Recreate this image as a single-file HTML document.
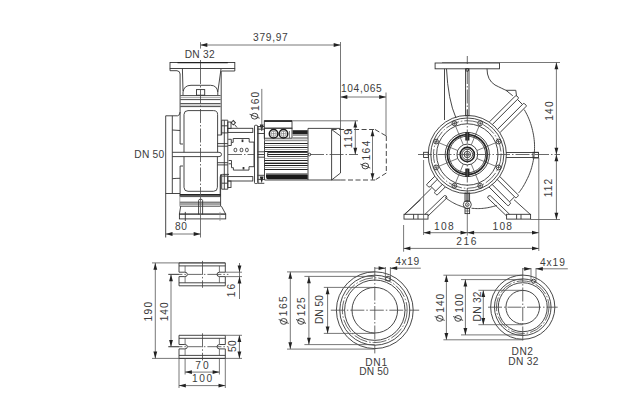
<!DOCTYPE html>
<html><head><meta charset="utf-8"><style>
html,body{margin:0;padding:0;background:#fff;}
svg{display:block;}
text{font-family:"Liberation Sans",sans-serif;fill:#3c3c3c;}
.o{fill:none;stroke:#333;stroke-width:0.9;}
.t{fill:none;stroke:#444;stroke-width:0.7;}
.thick{fill:none;stroke:#222;stroke-width:1.6;}
.fin{fill:none;stroke:#222;stroke-width:1.0;}
.lt{fill:none;stroke:#888;stroke-width:0.7;}
.d{fill:none;stroke:#555;stroke-width:0.8;}
.c{fill:none;stroke:#444;stroke-width:0.8;stroke-dasharray:14 2 1.5 2;}
.cc{fill:none;stroke:#444;stroke-width:0.8;stroke-dasharray:14 2 1.5 2;}
.dash{fill:none;stroke:#333;stroke-width:0.9;stroke-dasharray:5 2.5;}
.ar{fill:#222;stroke:none;}
.gl{fill:none;stroke:#1a1a1a;stroke-width:1.5;}
.w{fill:#fff;stroke:none;}
.t2{fill:none;stroke:#666;stroke-width:0.6;}
.rf{stroke:#222;stroke-width:1.2;}
.w2{stroke:#999;stroke-width:0.6;}
.os{fill:none;stroke:#333;stroke-width:0.9;}
</style></head><body>
<svg width="640" height="412" viewBox="0 0 640 412">
<rect width="640" height="412" fill="#fff"/>
<line class="d" x1="200.5" y1="42.2" x2="200.5" y2="48.6"/>
<line class="d" x1="200.5" y1="45" x2="340.5" y2="45"/>
<polygon class="ar" points="200.50,45.00 207.30,43.10 207.30,46.90"/>
<polygon class="ar" points="340.50,45.00 333.70,43.10 333.70,46.90"/>
<line class="d" x1="340.5" y1="42" x2="340.5" y2="136"/>
<line class="d" x1="340.5" y1="97" x2="386" y2="97"/>
<polygon class="ar" points="340.50,97.00 347.30,95.10 347.30,98.90"/>
<polygon class="ar" points="386.00,97.00 379.20,95.10 379.20,98.90"/>
<line class="d" x1="386" y1="92.5" x2="386" y2="136"/>
<rect class="o" x="170" y="62.5" width="64.8" height="6"/>
<line class="c" x1="200.5" y1="60" x2="200.5" y2="70"/>
<path class="o" d="M170,68.5 V70.7 H177 Q180,71 180.1,74 V144"/>
<path class="o" d="M234.8,68.5 V71 H221.5"/>
<line class="o" x1="221.2" y1="71" x2="221.2" y2="135"/>
<path class="o" d="M182.4,68.5 L183,91"/>
<path class="o" d="M221,69 L217.8,92"/>
<path class="o" d="M183,95.2 V92 Q184,85.3 191,85.3 H210.5 Q217,85.3 217.8,92 V95.2"/>
<rect class="o" x="196.5" y="89.6" width="8.2" height="5.6"/>
<line class="o" x1="180.4" y1="95.6" x2="220.6" y2="95.6"/>
<line class="o" x1="180.4" y1="99.6" x2="220.6" y2="99.6"/>
<line class="o" x1="180.4" y1="103.6" x2="220.6" y2="103.6"/>
<line class="o" x1="180.4" y1="106.6" x2="220.6" y2="106.6"/>
<line class="lt" x1="180.4" y1="97.6" x2="220.6" y2="97.6"/>
<line class="lt" x1="180.4" y1="105.1" x2="220.6" y2="105.1"/>
<line class="rf" x1="177.5" y1="62.7" x2="227.8" y2="62.7"/>
<path class="o" d="M184,152.3 V114.5 Q184,110.6 188,110.6 H213.5 Q217.6,110.6 217.6,114.5 V152.3"/>
<path class="o" d="M184,156.6 V187.3 Q184,191.3 188,191.3 H213.5 Q217.4,191.3 217.4,187.3 V156.6"/>
<path class="o" d="M172.3,152.3 H219 Q221.5,152.3 221.5,154.45 Q221.5,156.6 219,156.6 H172.3"/>
<line class="o" x1="165.7" y1="115.8" x2="165.7" y2="237.5"/>
<path class="o" d="M165.7,115.8 H177.5 Q180,115.5 180.1,112"/>
<line class="o" x1="172.3" y1="115.8" x2="172.3" y2="193.5"/>
<line class="o" x1="165.7" y1="193.5" x2="180" y2="193.5"/>
<path class="o" d="M172.3,130 L180.1,130.5"/>
<path class="o" d="M172.3,178.7 Q176,178.3 180.1,178.3"/>
<path class="o" d="M180.1,144 H183"/>
<path class="o" d="M183,166 H180.1 V196"/>
<line class="o" x1="220.6" y1="174.4" x2="220.6" y2="206.2"/>
<line class="thick" x1="179.8" y1="194.9" x2="220.6" y2="194.9"/>
<line class="o" x1="179.8" y1="196.6" x2="220.6" y2="196.6"/>
<line class="o" x1="179.8" y1="202.2" x2="220.6" y2="202.2"/>
<line class="o" x1="179.8" y1="204" x2="220.6" y2="204"/>
<line class="o" x1="179.8" y1="206.2" x2="220.6" y2="206.2"/>
<line class="lt" x1="179.8" y1="194.9" x2="179.8" y2="206.2"/>
<polyline class="o" points="180.7,206.2 179.4,214.1 225.7,214.1 221.4,206.2"/>
<rect class="o" x="179.4" y="214.1" width="46.3" height="4.8"/>
<path class="o" d="M198.6,214.5 V200.5 Q198.6,199.2 200.6,199.2 Q202.6,199.2 202.6,200.5 V214.5"/>
<line class="o" x1="185.3" y1="211.9" x2="185.3" y2="221"/>
<line class="lt" x1="220" y1="211.9" x2="220" y2="221"/>
<line class="c" x1="200.5" y1="70" x2="200.5" y2="192"/>
<line class="d" x1="200.5" y1="192" x2="200.5" y2="237.5"/>
<line class="d" x1="165.7" y1="234" x2="200.5" y2="234"/>
<polygon class="ar" points="165.70,234.00 172.50,232.10 172.50,235.90"/>
<polygon class="ar" points="200.50,234.00 193.70,232.10 193.70,235.90"/>
<line class="o" x1="224.3" y1="120.2" x2="224.3" y2="189.2"/>
<line class="o" x1="227.8" y1="120.2" x2="227.8" y2="189.2"/>
<line class="o" x1="221.7" y1="120.2" x2="227.8" y2="120.2"/>
<line class="o" x1="221.7" y1="189.2" x2="227.8" y2="189.2"/>
<line class="o" x1="221.7" y1="120.2" x2="221.7" y2="135"/>
<line class="o" x1="221.7" y1="174.4" x2="221.7" y2="189.2"/>
<line class="o" x1="221.7" y1="125.8" x2="227.8" y2="125.8"/>
<line class="o" x1="221.7" y1="132.9" x2="227.8" y2="132.9"/>
<line class="o" x1="221.7" y1="183.2" x2="227.8" y2="183.2"/>
<line class="o" x1="221.7" y1="176.1" x2="227.8" y2="176.1"/>
<line class="o" x1="217.3" y1="143.6" x2="227.8" y2="143.6"/>
<line class="o" x1="217.3" y1="146.2" x2="227.8" y2="146.2"/>
<line class="o" x1="217.3" y1="162.7" x2="227.8" y2="162.7"/>
<line class="o" x1="217.3" y1="164.9" x2="227.8" y2="164.9"/>
<path class="o" d="M217.3,135 H221.7"/>
<path class="o" d="M229,174.4 H222.5 Q220.2,174.6 220.2,177 V196"/>
<rect class="o" x="227.8" y="122" width="3.2" height="6.5"/>
<rect class="o" x="227.8" y="181" width="3.2" height="6.5"/>
<rect x="231.3" y="120.7" width="4" height="4" fill="#333" transform="rotate(45 233.3 122.7)"/>
<circle class="w" cx="233.3" cy="122.7" r="1.2"/>
<line class="o" x1="234.5" y1="124.5" x2="237" y2="127.5"/>
<rect class="o" x="227.8" y="128.3" width="25" height="4.1"/>
<rect class="o" x="227.8" y="176.6" width="25" height="4.4"/>
<path class="o" d="M228.2,139.3 H231.3 V142.4 H233.2 V138.5 H249.2 V142.1 H254 V166.7 H249 V170.1 H233.4 V167.7 H231.5 V163.8 H228.6"/>
<path class="o" d="M228.2,145.5 H231.3 V142.4"/>
<path class="o" d="M228.6,160.5 H231.5 V163.8"/>
<rect class="o" x="234.1" y="148.3" width="2.6" height="3.4" rx="1"/>
<rect class="o" x="240.2" y="148.3" width="2.6" height="3.4" rx="1"/>
<rect class="o" x="245.6" y="148.3" width="2.6" height="3.4" rx="1"/>
<rect x="241.6" y="139.5" width="1.8" height="2.6" fill="#333"/>
<rect x="242.6" y="167" width="1.8" height="2.5" fill="#333"/>
<rect class="o" x="254.5" y="125.3" width="3.1" height="58.2" rx="0.8"/>
<line class="o" x1="257.6" y1="126.5" x2="264.3" y2="126.5"/>
<line class="o" x1="257.6" y1="129.2" x2="264.3" y2="129.2"/>
<line class="o" x1="257.6" y1="133.5" x2="264.3" y2="133.5"/>
<line class="o" x1="257.6" y1="175.3" x2="264.3" y2="175.3"/>
<line class="o" x1="257.6" y1="179.4" x2="264.3" y2="179.4"/>
<line class="o" x1="257.6" y1="183.3" x2="264.3" y2="183.3"/>
<line class="o" x1="257.6" y1="151.8" x2="264.3" y2="151.8"/>
<line class="o" x1="257.6" y1="157.2" x2="264.3" y2="157.2"/>
<line class="t" x1="258.6" y1="126.5" x2="258.6" y2="183.3"/>
<line class="o" x1="257.6" y1="154.5" x2="264.3" y2="154.5"/>
<polygon class="ar" points="261.70,131.30 259.80,124.50 263.60,124.50"/>
<polygon class="ar" points="261.70,183.30 259.80,176.50 263.60,176.50"/>
<line class="d" x1="261.8" y1="88.9" x2="261.8" y2="131"/>
<rect class="o" x="264.3" y="120.8" width="27.7" height="7.4"/>
<line class="thick" x1="264.3" y1="121.1" x2="292" y2="121.1"/>
<rect class="o" x="264.3" y="128.2" width="27.7" height="10"/>
<line class="t" x1="289.5" y1="131" x2="289.5" y2="138"/>
<circle class="gl" cx="273.6" cy="133.7" r="4.3"/>
<circle class="t2" cx="273.6" cy="133.7" r="2.7"/>
<line class="t2" x1="270.90000000000003" y1="133.7" x2="276.3" y2="133.7"/>
<line class="t2" x1="273.6" y1="131" x2="273.6" y2="136.4"/>
<circle class="gl" cx="283.5" cy="133.7" r="4.3"/>
<circle class="t2" cx="283.5" cy="133.7" r="2.7"/>
<line class="t2" x1="280.8" y1="133.7" x2="286.2" y2="133.7"/>
<line class="t2" x1="283.5" y1="131" x2="283.5" y2="136.4"/>
<line class="d" x1="292.3" y1="120.8" x2="358" y2="120.8"/>
<line class="o" x1="264.5" y1="128.4" x2="264.5" y2="180"/>
<rect x="292.6" y="130.2" width="15.1" height="3.8" fill="#222"/>
<rect x="292.6" y="134" width="15.1" height="2" fill="#999"/>
<line class="o" x1="292.6" y1="138" x2="307.7" y2="138"/>
<line class="o" x1="308" y1="128.4" x2="340.5" y2="128.4"/>
<line class="o" x1="308" y1="128.4" x2="308" y2="180"/>
<rect x="264.5" y="139.6" width="43.2" height="1.6" fill="#999"/>
<line class="fin" x1="264.5" y1="143.5" x2="307.7" y2="143.5"/>
<line class="lt" x1="264.5" y1="145.5" x2="307.7" y2="145.5"/>
<line class="fin" x1="264.5" y1="147.5" x2="307.7" y2="147.5"/>
<line class="lt" x1="264.5" y1="149.5" x2="307.7" y2="149.5"/>
<line class="fin" x1="264.5" y1="151.5" x2="307.7" y2="151.5"/>
<line class="fin" x1="264.5" y1="160.5" x2="307.7" y2="160.5"/>
<line class="lt" x1="264.5" y1="162.5" x2="307.7" y2="162.5"/>
<line class="fin" x1="264.5" y1="163.5" x2="307.7" y2="163.5"/>
<line class="fin" x1="264.5" y1="165.5" x2="307.7" y2="165.5"/>
<line class="lt" x1="264.5" y1="167.5" x2="307.7" y2="167.5"/>
<line class="fin" x1="264.5" y1="169.5" x2="307.7" y2="169.5"/>
<line class="o" x1="267.7" y1="152.5" x2="307.7" y2="152.5"/>
<line class="fin" x1="267.7" y1="154.5" x2="307.7" y2="154.5"/>
<line class="o" x1="267.7" y1="156.5" x2="307.7" y2="156.5"/>
<line class="o" x1="267.7" y1="152.5" x2="267.7" y2="156.5"/>
<line class="lt" x1="264.5" y1="158.5" x2="307.7" y2="158.5"/>
<path d="M266,175 H307.7 V179.2 H268 Q266,179.2 266,177 Z" fill="#1a1a1a"/>
<rect x="266" y="173.3" width="41.7" height="1.7" fill="#666"/>
<line class="o" x1="264.5" y1="180" x2="340.5" y2="180"/>
<circle class="o" cx="309.5" cy="154.5" r="1.3"/>
<path class="o" d="M331.6,129.5 V180"/>
<path class="o" d="M331.6,129.5 L340.5,136 V173 L331.6,180"/>
<line class="dash" x1="331.6" y1="129.5" x2="375" y2="129.5"/>
<line class="dash" x1="375" y1="129.5" x2="386.3" y2="136"/>
<line class="dash" x1="386.3" y1="136" x2="386.3" y2="173"/>
<line class="dash" x1="386.3" y1="173" x2="375" y2="180"/>
<line class="dash" x1="340.5" y1="180" x2="375" y2="180"/>
<line class="c" x1="310" y1="154.5" x2="358" y2="154.5"/>
<line class="c" x1="228" y1="154.5" x2="254.5" y2="154.5"/>
<line class="d" x1="355.3" y1="120.8" x2="355.3" y2="154.5"/>
<polygon class="ar" points="355.30,120.80 353.40,127.60 357.20,127.60"/>
<polygon class="ar" points="355.30,154.50 353.40,147.70 357.20,147.70"/>
<line class="d" x1="372.5" y1="129.5" x2="372.5" y2="180"/>
<polygon class="ar" points="372.50,129.50 370.60,136.30 374.40,136.30"/>
<polygon class="ar" points="372.50,180.00 370.60,173.20 374.40,173.20"/>
<rect class="o" x="435.1" y="63" width="64.4" height="5.8"/>
<line class="d" x1="442" y1="62.5" x2="560" y2="62.5"/>
<line class="c" x1="467.3" y1="56" x2="467.3" y2="64"/>
<rect class="o" x="465.6" y="68.8" width="3.4" height="47"/>
<line class="c" x1="467.3" y1="70" x2="467.3" y2="115"/>
<circle class="o" cx="467.3" cy="70" r="1.4"/>
<line class="o" x1="444.5" y1="68.8" x2="444.5" y2="120"/>
<path class="o" d="M446.5,68.8 Q448,100 456,118"/>
<path class="o" d="M487,68.8 Q487,80 495,85 Q503,89 506,90.3 L512.8,95.8"/>
<g transform="translate(467.3 154.5) rotate(-45)"><line class="o" x1="39" y1="-7.4" x2="74.4" y2="-7.4"/><line class="o" x1="39" y1="-3.5" x2="74.4" y2="-3.5"/><line class="o" x1="39" y1="3.6" x2="74.4" y2="3.6"/><line class="o" x1="39" y1="7.6" x2="74.4" y2="7.6"/><line class="o" x1="74.4" y1="-3.5" x2="74.4" y2="3.6"/><path class="o" d="M74.4,-7.4 H75.4 Q76.4,-7.4 76.4,-6.4 V-4.5 Q76.4,-3.5 75.4,-3.5 H74.4"/><path class="o" d="M74.4,3.6 H75.4 Q76.4,3.6 76.4,4.6 V6.6 Q76.4,7.6 75.4,7.6 H74.4"/></g>
<path class="o" d="M506,90.3 H515.8 L516.5,95.8"/>
<circle class="o" cx="467.3" cy="154.5" r="39.1"/>
<circle class="o" cx="467.3" cy="154.5" r="36.5"/>
<circle class="cc" cx="467.3" cy="154.5" r="33.8"/>
<circle class="o" cx="467.3" cy="154.5" r="30.7"/>
<circle class="o" cx="467.3" cy="154.5" r="22.1"/>
<circle class="thick" cx="467.3" cy="154.5" r="19.9"/>
<circle class="o" cx="467.3" cy="154.5" r="18.3"/>
<circle class="o" cx="467.3" cy="154.5" r="10.4"/>
<circle class="thick" cx="467.3" cy="154.5" r="7.1"/>
<circle class="o" cx="467.3" cy="154.5" r="5.3"/>
<circle class="o" cx="467.3" cy="154.5" r="3.2"/>
<circle class="t" cx="467.3" cy="154.5" r="1.5"/>
<line class="t" x1="476.91" y1="158.48" x2="495.66" y2="166.25"/>
<line class="t" x1="471.28" y1="164.11" x2="479.05" y2="182.86"/>
<line class="t" x1="463.32" y1="164.11" x2="455.55" y2="182.86"/>
<line class="t" x1="457.69" y1="158.48" x2="438.94" y2="166.25"/>
<line class="t" x1="457.69" y1="150.52" x2="438.94" y2="142.75"/>
<line class="t" x1="463.32" y1="144.89" x2="455.55" y2="126.14"/>
<line class="t" x1="471.28" y1="144.89" x2="479.05" y2="126.14"/>
<line class="t" x1="476.91" y1="150.52" x2="495.66" y2="142.75"/>
<circle class="o" cx="498.53" cy="167.43" r="2.4"/>
<line class="t" x1="496.83" y1="167.43" x2="500.23" y2="167.43"/>
<line class="t" x1="498.53" y1="165.73" x2="498.53" y2="169.13"/>
<circle class="o" cx="480.23" cy="185.73" r="2.4"/>
<line class="t" x1="478.53" y1="185.73" x2="481.93" y2="185.73"/>
<line class="t" x1="480.23" y1="184.03" x2="480.23" y2="187.43"/>
<circle class="o" cx="454.37" cy="185.73" r="2.4"/>
<line class="t" x1="452.67" y1="185.73" x2="456.07" y2="185.73"/>
<line class="t" x1="454.37" y1="184.03" x2="454.37" y2="187.43"/>
<circle class="o" cx="436.07" cy="167.43" r="2.4"/>
<line class="t" x1="434.37" y1="167.43" x2="437.77" y2="167.43"/>
<line class="t" x1="436.07" y1="165.73" x2="436.07" y2="169.13"/>
<circle class="o" cx="436.07" cy="141.57" r="2.4"/>
<line class="t" x1="434.37" y1="141.57" x2="437.77" y2="141.57"/>
<line class="t" x1="436.07" y1="139.87" x2="436.07" y2="143.27"/>
<circle class="o" cx="454.37" cy="123.27" r="2.4"/>
<line class="t" x1="452.67" y1="123.27" x2="456.07" y2="123.27"/>
<line class="t" x1="454.37" y1="121.57" x2="454.37" y2="124.97"/>
<circle class="o" cx="480.23" cy="123.27" r="2.4"/>
<line class="t" x1="478.53" y1="123.27" x2="481.93" y2="123.27"/>
<line class="t" x1="480.23" y1="121.57" x2="480.23" y2="124.97"/>
<circle class="o" cx="498.53" cy="141.57" r="2.4"/>
<line class="t" x1="496.83" y1="141.57" x2="500.23" y2="141.57"/>
<line class="t" x1="498.53" y1="139.87" x2="498.53" y2="143.27"/>
<rect x="465.3" y="132.3" width="4.1" height="8.2" fill="#222"/>
<rect x="465.3" y="168.6" width="4.1" height="8.3" fill="#222"/>
<line class="w2" x1="467.3" y1="133" x2="467.3" y2="140"/>
<line class="w2" x1="467.3" y1="169.5" x2="467.3" y2="176.5"/>
<line class="o" x1="506.0" y1="152.5" x2="538.5" y2="152.5"/>
<line class="o" x1="506.0" y1="157.5" x2="538.5" y2="157.5"/>
<rect class="o" x="533" y="152.3" width="5.5" height="5.7"/>
<rect class="o" x="423.6" y="152.3" width="4.8" height="5.2"/>
<line class="c" x1="418" y1="154.5" x2="560" y2="154.5"/>
<line class="c" x1="467.3" y1="110" x2="467.3" y2="212"/>
<line class="d" x1="467.3" y1="212" x2="467.3" y2="235.5"/>
<g transform="translate(467.3 154.5) rotate(45)"><line class="o" x1="38.3" y1="-7.4" x2="63.3" y2="-7.4"/><line class="o" x1="38.3" y1="-3.5" x2="63.3" y2="-3.5"/><line class="o" x1="38.3" y1="3.6" x2="63.3" y2="3.6"/><line class="o" x1="38.3" y1="7.6" x2="63.3" y2="7.6"/><line class="o" x1="63.3" y1="-3.5" x2="63.3" y2="3.6"/><path class="o" d="M63.3,-7.4 H64.3 Q65.3,-7.4 65.3,-6.4 V-4.5 Q65.3,-3.5 64.3,-3.5 H63.3"/><path class="o" d="M63.3,3.6 H64.3 Q65.3,3.6 65.3,4.6 V6.6 Q65.3,7.6 64.3,7.6 H63.3"/></g>
<g transform="translate(467.3 154.5) rotate(135)"><line class="o" x1="38.3" y1="-7.4" x2="48.3" y2="-7.4"/><line class="o" x1="38.3" y1="-3.5" x2="48.3" y2="-3.5"/><line class="o" x1="38.3" y1="3.6" x2="48.3" y2="3.6"/><line class="o" x1="38.3" y1="7.6" x2="48.3" y2="7.6"/><line class="o" x1="48.3" y1="-3.5" x2="48.3" y2="3.6"/><path class="o" d="M48.3,-7.4 H49.3 Q50.3,-7.4 50.3,-6.4 V-4.5 Q50.3,-3.5 49.3,-3.5 H48.3"/><path class="o" d="M48.3,3.6 H49.3 Q50.3,3.6 50.3,4.6 V6.6 Q50.3,7.6 49.3,7.6 H48.3"/></g>
<polyline class="o" points="514,199.7 530.2,214.3"/>
<path class="o" d="M490.2,195.6 L509.6,214.3 M487.6,197.8 L506.6,216"/>
<path class="o" d="M487.6,197.8 Q487.8,195.2 490.2,195.6"/>
<rect class="o" x="506.6" y="214.3" width="24" height="4.8"/>
<line class="o" x1="516.6" y1="214.3" x2="516.6" y2="219.1"/>
<line class="o" x1="521" y1="214.3" x2="521" y2="219.1"/>
<polyline class="o" points="420.6,199.7 404.4,214.3"/>
<path class="o" d="M444.4,195.6 L425.0,214.3 M447.0,197.8 L428.0,216"/>
<path class="o" d="M447.0,197.8 Q446.8,195.2 444.4,195.6"/>
<rect class="o" x="404.0" y="214.3" width="24" height="4.8"/>
<line class="o" x1="418.0" y1="214.3" x2="418.0" y2="219.1"/>
<line class="o" x1="413.6" y1="214.3" x2="413.6" y2="219.1"/>
<polyline class="o" points="431.6,188 405,214.3"/>
<rect class="o" x="465" y="193" width="4.6" height="8.3"/>
<line class="t" x1="466.3" y1="193" x2="466.3" y2="201"/>
<line class="t" x1="468.3" y1="193" x2="468.3" y2="201"/>
<circle class="o" cx="467.3" cy="204.6" r="4"/>
<circle class="o" cx="467.3" cy="204.6" r="1.8"/>
<rect class="o" x="465" y="208.6" width="4.6" height="5"/>
<line class="t" x1="465" y1="211" x2="469.6" y2="211"/>
<polyline class="o" points="524.27,109.67 525.23,111.32 526.14,112.99 527.0,114.68 527.82,116.39 528.58,118.11 529.3,119.85 529.97,121.6 530.59,123.36 531.16,125.13 531.68,126.91 532.15,128.69 532.57,130.49 532.96,132.28 533.33,134.06 533.65,135.85 533.92,137.64 534.14,139.44 534.32,141.23 534.44,143.02 534.52,144.81 534.55,146.6 534.54,148.38 534.49,150.15 534.4,151.92 534.27,153.68 534.09,155.43 533.86,157.17 533.59,158.9 533.27,160.62 532.91,162.32 532.53,164.02 532.13,165.7 531.68,167.36 531.19,169.02 530.66,170.65 530.09,172.27 529.48,173.87 528.82,175.44 528.13,177.0 527.4,178.54 526.63,180.05 525.89,181.57 525.12,183.07 524.3,184.55 523.45,186.01 522.56,187.44 521.63,188.85 520.67,190.23 519.67,191.58 518.64,192.91"/>
<polyline class="o" points="496.74,205.48 495.23,205.93 493.71,206.34 492.2,206.71 490.71,207.08 489.22,207.42 487.73,207.71 486.23,207.96 484.74,208.17 483.25,208.33 481.76,208.46 480.27,208.54 478.8,208.59 477.33,208.59 475.86,208.56 474.41,208.48 472.96,208.37 471.53,208.22"/>
<polyline class="o" points="465.45,207.37 464.08,207.1 462.73,206.75 461.39,206.33 460.08,205.88 458.78,205.39 457.51,204.87 456.26,204.32 455.02,203.74 453.82,203.12 452.63,202.48 451.47,201.81 450.33,201.11 449.22,200.39 448.14,199.64 447.07,198.89 446.02,198.12 445.01,197.33"/>
<line class="d" x1="530.6" y1="219.5" x2="560" y2="219.5"/>
<line class="d" x1="556.4" y1="62.5" x2="556.4" y2="219.5"/>
<polygon class="ar" points="556.40,62.50 554.50,69.30 558.30,69.30"/>
<polygon class="ar" points="556.40,154.50 554.50,147.70 558.30,147.70"/>
<polygon class="ar" points="556.40,154.50 554.50,161.30 558.30,161.30"/>
<polygon class="ar" points="556.40,219.50 554.50,212.70 558.30,212.70"/>
<line class="d" x1="538.8" y1="158" x2="538.8" y2="251"/>
<line class="d" x1="423.6" y1="160" x2="423.6" y2="235"/>
<line class="d" x1="403.6" y1="225" x2="403.6" y2="251.7"/>
<line class="d" x1="423.6" y1="232.7" x2="538.8" y2="232.7"/>
<polygon class="ar" points="423.60,232.70 430.40,230.80 430.40,234.60"/>
<polygon class="ar" points="467.30,232.70 460.50,230.80 460.50,234.60"/>
<polygon class="ar" points="467.30,232.70 474.10,230.80 474.10,234.60"/>
<polygon class="ar" points="538.80,232.70 532.00,230.80 532.00,234.60"/>
<line class="d" x1="403.6" y1="248.4" x2="538.8" y2="248.4"/>
<polygon class="ar" points="403.60,248.40 410.40,246.50 410.40,250.30"/>
<polygon class="ar" points="538.80,248.40 532.00,246.50 532.00,250.30"/>
<line class="d" x1="152" y1="262.9" x2="225.3" y2="262.9"/>
<line class="d" x1="152" y1="358.4" x2="242" y2="358.4"/>
<line class="d" x1="155.3" y1="262.9" x2="155.3" y2="358.4"/>
<polygon class="ar" points="155.30,262.90 153.40,269.70 157.20,269.70"/>
<polygon class="ar" points="155.30,358.40 153.40,351.60 157.20,351.60"/>
<line class="d" x1="168.4" y1="274.4" x2="179" y2="274.4"/>
<line class="d" x1="168.4" y1="346.7" x2="179" y2="346.7"/>
<line class="d" x1="171" y1="274.4" x2="171" y2="346.7"/>
<polygon class="ar" points="171.00,274.40 169.10,281.20 172.90,281.20"/>
<polygon class="ar" points="171.00,346.70 169.10,339.90 172.90,339.90"/>
<path class="o" d="M179,262.9 H225.3 V272.2 M225.3,276.59999999999997 V285.8 H179 V276.59999999999997 M179,272.2 V262.9"/>
<line class="o" x1="179" y1="265.9" x2="225.3" y2="265.9"/>
<line class="o" x1="179" y1="282.8" x2="225.3" y2="282.8"/>
<path class="o" d="M179,272.2 H184.8 Q187.4,272.2 187.4,274.4 Q187.4,276.59999999999997 184.8,276.59999999999997 H179"/>
<path class="o" d="M225.3,272.2 H219.6 Q217,272.2 217,274.4 Q217,276.59999999999997 219.6,276.59999999999997 H225.3"/>
<line class="t" x1="185.1" y1="265.9" x2="185.1" y2="272.2"/>
<line class="t" x1="185.1" y1="276.59999999999997" x2="185.1" y2="282.8"/>
<line class="t" x1="219.4" y1="265.9" x2="219.4" y2="272.2"/>
<line class="t" x1="219.4" y1="276.59999999999997" x2="219.4" y2="282.8"/>
<line class="c" x1="168.4" y1="274.4" x2="228.4" y2="274.4"/>
<line class="c" x1="202.5" y1="260.9" x2="202.5" y2="287.8"/>
<path class="o" d="M179,335.3 H225.3 V344.5 M225.3,348.9 V358.4 H179 V348.9 M179,344.5 V335.3"/>
<line class="o" x1="179" y1="338.3" x2="225.3" y2="338.3"/>
<line class="o" x1="179" y1="355.4" x2="225.3" y2="355.4"/>
<path class="o" d="M179,344.5 H184.8 Q187.4,344.5 187.4,346.7 Q187.4,348.9 184.8,348.9 H179"/>
<path class="o" d="M225.3,344.5 H219.6 Q217,344.5 217,346.7 Q217,348.9 219.6,348.9 H225.3"/>
<line class="t" x1="185.1" y1="338.3" x2="185.1" y2="344.5"/>
<line class="t" x1="185.1" y1="348.9" x2="185.1" y2="355.4"/>
<line class="t" x1="219.4" y1="338.3" x2="219.4" y2="344.5"/>
<line class="t" x1="219.4" y1="348.9" x2="219.4" y2="355.4"/>
<line class="c" x1="168.4" y1="346.7" x2="228.4" y2="346.7"/>
<line class="c" x1="202.5" y1="333.3" x2="202.5" y2="360.4"/>
<line class="d" x1="225.3" y1="272.2" x2="242" y2="272.2"/>
<line class="d" x1="225.3" y1="276.59999999999997" x2="242" y2="276.59999999999997"/>
<line class="d" x1="239.5" y1="263" x2="239.5" y2="299"/>
<polygon class="ar" points="239.50,272.20 237.60,265.40 241.40,265.40"/>
<polygon class="ar" points="239.50,276.60 237.60,283.40 241.40,283.40"/>
<line class="d" x1="225.3" y1="335.3" x2="242" y2="335.3"/>
<line class="d" x1="239.4" y1="335.3" x2="239.4" y2="358.4"/>
<polygon class="ar" points="239.40,335.30 237.50,342.10 241.30,342.10"/>
<polygon class="ar" points="239.40,358.40 237.50,351.60 241.30,351.60"/>
<line class="d" x1="185.1" y1="358.4" x2="185.1" y2="374.5"/>
<line class="d" x1="219.4" y1="358.4" x2="219.4" y2="374.5"/>
<line class="d" x1="185.1" y1="372.1" x2="219.4" y2="372.1"/>
<polygon class="ar" points="185.10,372.10 191.90,370.20 191.90,374.00"/>
<polygon class="ar" points="219.40,372.10 212.60,370.20 212.60,374.00"/>
<line class="d" x1="179" y1="358.4" x2="179" y2="388"/>
<line class="d" x1="225.3" y1="358.4" x2="225.3" y2="388"/>
<line class="d" x1="179" y1="385.6" x2="225.3" y2="385.6"/>
<polygon class="ar" points="179.00,385.60 185.80,383.70 185.80,387.50"/>
<polygon class="ar" points="225.30,385.60 218.50,383.70 218.50,387.50"/>
<circle class="o" cx="374.8" cy="310.2" r="38.4"/>
<circle class="o" cx="374.8" cy="310.2" r="35"/>
<circle class="cc" cx="374.8" cy="310.2" r="32.4"/>
<circle class="o" cx="374.8" cy="310.2" r="30.2"/>
<circle class="o" cx="374.8" cy="310.2" r="22.8"/>
<circle class="o" cx="388" cy="278.6" r="2.4"/>
<line class="c" x1="330.8" y1="310.2" x2="419.2" y2="310.2"/>
<line class="c" x1="374.8" y1="267" x2="374.8" y2="353.4"/>
<line class="d" x1="287" y1="271.9" x2="374.8" y2="271.9"/>
<line class="d" x1="304.4" y1="276.4" x2="374.8" y2="276.4"/>
<line class="d" x1="323.8" y1="287.4" x2="374.8" y2="287.4"/>
<line class="d" x1="287" y1="349.1" x2="374.8" y2="349.1"/>
<line class="d" x1="304.4" y1="344.6" x2="374.8" y2="344.6"/>
<line class="d" x1="323.8" y1="333.4" x2="374.8" y2="333.4"/>
<line class="d" x1="290.3" y1="271.9" x2="290.3" y2="349.1"/>
<polygon class="ar" points="290.30,271.90 288.40,278.70 292.20,278.70"/>
<polygon class="ar" points="290.30,349.10 288.40,342.30 292.20,342.30"/>
<line class="d" x1="308.9" y1="276.4" x2="308.9" y2="344.6"/>
<polygon class="ar" points="308.90,276.40 307.00,283.20 310.80,283.20"/>
<polygon class="ar" points="308.90,344.60 307.00,337.80 310.80,337.80"/>
<line class="d" x1="327.6" y1="287.4" x2="327.6" y2="333.4"/>
<polygon class="ar" points="327.60,287.40 325.70,294.20 329.50,294.20"/>
<polygon class="ar" points="327.60,333.40 325.70,326.60 329.50,326.60"/>
<line class="d" x1="385.4" y1="267" x2="385.4" y2="281"/>
<line class="d" x1="390.4" y1="267" x2="390.4" y2="281"/>
<line class="d" x1="374.8" y1="268.2" x2="385.4" y2="268.2"/>
<line class="d" x1="390.4" y1="268.2" x2="420.8" y2="268.2"/>
<polygon class="ar" points="385.40,268.20 378.60,266.30 378.60,270.10"/>
<polygon class="ar" points="390.40,268.20 397.20,266.30 397.20,270.10"/>
<circle class="o" cx="522.75" cy="307.2" r="32.1"/>
<circle class="o" cx="522.75" cy="307.2" r="28.3"/>
<circle class="cc" cx="522.75" cy="307.2" r="26.3"/>
<circle class="o" cx="522.75" cy="307.2" r="24.5"/>
<circle class="o" cx="522.75" cy="307.2" r="16.8"/>
<circle class="o" cx="533.5" cy="281.2" r="2"/>
<line class="c" x1="488" y1="307.2" x2="557.7" y2="307.2"/>
<line class="c" x1="522.75" y1="268" x2="522.75" y2="342.4"/>
<line class="d" x1="443.4" y1="275.2" x2="522.75" y2="275.2"/>
<line class="d" x1="461" y1="279.6" x2="522.75" y2="279.6"/>
<line class="d" x1="478.4" y1="290.3" x2="522.75" y2="290.3"/>
<line class="d" x1="443.4" y1="339.8" x2="522.75" y2="339.8"/>
<line class="d" x1="461" y1="334.9" x2="522.75" y2="334.9"/>
<line class="d" x1="478.4" y1="324.7" x2="522.75" y2="324.7"/>
<line class="d" x1="446.4" y1="275.2" x2="446.4" y2="339.8"/>
<polygon class="ar" points="446.40,275.20 444.50,282.00 448.30,282.00"/>
<polygon class="ar" points="446.40,339.80 444.50,333.00 448.30,333.00"/>
<line class="d" x1="465.4" y1="279.6" x2="465.4" y2="334.9"/>
<polygon class="ar" points="465.40,279.60 463.50,286.40 467.30,286.40"/>
<polygon class="ar" points="465.40,334.90 463.50,328.10 467.30,328.10"/>
<line class="d" x1="483.3" y1="290.3" x2="483.3" y2="324.7"/>
<polygon class="ar" points="483.30,290.30 481.40,297.10 485.20,297.10"/>
<polygon class="ar" points="483.30,324.70 481.40,317.90 485.20,317.90"/>
<line class="d" x1="531" y1="268" x2="531" y2="282"/>
<line class="d" x1="536" y1="268" x2="536" y2="282"/>
<line class="d" x1="522.75" y1="268.8" x2="531" y2="268.8"/>
<line class="d" x1="536" y1="268.8" x2="567.8" y2="268.8"/>
<polygon class="ar" points="531.00,268.80 524.20,266.90 524.20,270.70"/>
<polygon class="ar" points="536.00,268.80 542.80,266.90 542.80,270.70"/>
<text x="253.04" y="41.03" font-size="10.20" textLength="34.74" lengthAdjust="spacing">379,97</text>
<text x="184.66" y="58.19" font-size="10.20" textLength="29.93" lengthAdjust="spacing">DN 32</text>
<text x="341.01" y="92.45" font-size="10.20" textLength="40.68" lengthAdjust="spacing">104,065</text>
<text x="134.32" y="158.35" font-size="10.20" textLength="29.76" lengthAdjust="spacing">DN 50</text>
<text x="175.08" y="230.16" font-size="10.20" textLength="11.96" lengthAdjust="spacing">80</text>
<text x="433.98" y="230.12" font-size="10.20" textLength="19.59" lengthAdjust="spacing">108</text>
<text x="492.49" y="230.02" font-size="10.20" textLength="19.55" lengthAdjust="spacing">108</text>
<text x="456.35" y="245.38" font-size="10.20" textLength="20.04" lengthAdjust="spacing">216</text>
<text x="395.26" y="265.10" font-size="10.20" textLength="24.03" lengthAdjust="spacing">4x19</text>
<text x="540.03" y="265.63" font-size="10.20" textLength="24.77" lengthAdjust="spacing">4x19</text>
<text x="195.15" y="369.38" font-size="10.20" textLength="13.48" lengthAdjust="spacing">70</text>
<text x="192.07" y="382.43" font-size="10.20" textLength="19.99" lengthAdjust="spacing">100</text>
<text x="365.27" y="365.61" font-size="10.20" textLength="21.85" lengthAdjust="spacing">DN1</text>
<text x="359.27" y="375.42" font-size="10.20" textLength="29.37" lengthAdjust="spacing">DN 50</text>
<text x="511.49" y="354.83" font-size="10.20" textLength="21.53" lengthAdjust="spacing">DN2</text>
<text x="508.25" y="365.39" font-size="10.20" textLength="30.28" lengthAdjust="spacing">DN 32</text>
<text x="258.65" y="111.00" font-size="10.20" textLength="19.23" lengthAdjust="spacing" transform="rotate(-90 258.65 111.00)">160</text>
<text x="351.73" y="148.18" font-size="10.20" textLength="19.07" lengthAdjust="spacing" transform="rotate(-90 351.73 148.18)">119</text>
<text x="369.65" y="160.51" font-size="10.20" textLength="19.93" lengthAdjust="spacing" transform="rotate(-90 369.65 160.51)">164</text>
<text x="552.62" y="120.75" font-size="10.20" textLength="19.43" lengthAdjust="spacing" transform="rotate(-90 552.62 120.75)">140</text>
<text x="552.46" y="197.14" font-size="10.20" textLength="18.35" lengthAdjust="spacing" transform="rotate(-90 552.46 197.14)">112</text>
<text x="151.68" y="321.43" font-size="10.20" textLength="19.59" lengthAdjust="spacing" transform="rotate(-90 151.68 321.43)">190</text>
<text x="168.19" y="321.31" font-size="10.20" textLength="18.89" lengthAdjust="spacing" transform="rotate(-90 168.19 321.31)">140</text>
<text x="235.49" y="297.15" font-size="10.20" textLength="13.24" lengthAdjust="spacing" transform="rotate(-90 235.49 297.15)">16</text>
<text x="235.80" y="352.12" font-size="10.20" textLength="11.84" lengthAdjust="spacing" transform="rotate(-90 235.80 352.12)">50</text>
<text x="287.36" y="316.14" font-size="10.20" textLength="19.75" lengthAdjust="spacing" transform="rotate(-90 287.36 316.14)">165</text>
<text x="304.99" y="316.14" font-size="10.20" textLength="18.76" lengthAdjust="spacing" transform="rotate(-90 304.99 316.14)">125</text>
<text x="323.22" y="324.05" font-size="10.20" textLength="28.92" lengthAdjust="spacing" transform="rotate(-90 323.22 324.05)">DN 50</text>
<text x="444.44" y="312.68" font-size="10.20" textLength="18.95" lengthAdjust="spacing" transform="rotate(-90 444.44 312.68)">140</text>
<text x="462.68" y="312.77" font-size="10.20" textLength="19.01" lengthAdjust="spacing" transform="rotate(-90 462.68 312.77)">100</text>
<text x="480.99" y="321.42" font-size="10.20" textLength="29.93" lengthAdjust="spacing" transform="rotate(-90 480.99 321.42)">DN 32</text>
<ellipse class="os" cx="254.6" cy="116.2" rx="3.3" ry="2.9"/>
<line class="os" x1="249.6" y1="114.3" x2="259.6" y2="118.2"/>
<ellipse class="os" cx="365.3" cy="166" rx="3.3" ry="2.9"/>
<line class="os" x1="360.3" y1="164.1" x2="370.3" y2="168"/>
<ellipse class="os" cx="283.7" cy="321.4" rx="3.3" ry="2.9"/>
<line class="os" x1="278.7" y1="319.5" x2="288.7" y2="323.4"/>
<ellipse class="os" cx="301" cy="321.4" rx="3.3" ry="2.9"/>
<line class="os" x1="296" y1="319.5" x2="306" y2="323.4"/>
<ellipse class="os" cx="439.7" cy="318.4" rx="3.3" ry="2.9"/>
<line class="os" x1="434.7" y1="316.5" x2="444.7" y2="320.4"/>
<ellipse class="os" cx="458.1" cy="318.4" rx="3.3" ry="2.9"/>
<line class="os" x1="453.1" y1="316.5" x2="463.1" y2="320.4"/>
</svg>
</body></html>
